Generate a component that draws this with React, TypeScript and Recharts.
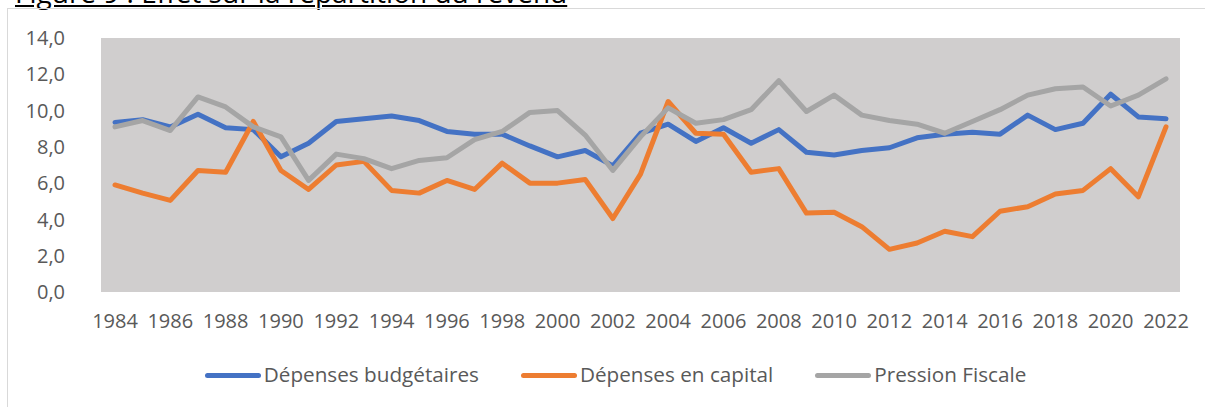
import React from 'react';
import { LineChart, Line, XAxis, YAxis, Legend } from 'recharts';

const years = [
  '1984', '1985', '1986', '1987', '1988', '1989', '1990', '1991', '1992', '1993',
  '1994', '1995', '1996', '1997', '1998', '1999', '2000', '2001', '2002', '2003',
  '2004', '2005', '2006', '2007', '2008', '2009', '2010', '2011', '2012', '2013',
  '2014', '2015', '2016', '2017', '2018', '2019', '2020', '2021', '2022',
];

const depensesBudgetaires = [
  9.35, 9.5, 9.1, 9.8, 9.05, 8.95, 7.45, 8.2, 9.4, 9.55,
  9.7, 9.45, 8.85, 8.7, 8.7, 8.05, 7.45, 7.8, 6.95, 8.75,
  9.25, 8.3, 9.05, 8.2, 8.95, 7.7, 7.55, 7.8, 7.95, 8.5,
  8.7, 8.8, 8.7, 9.75, 8.95, 9.3, 10.9, 9.65, 9.55,
];

const depensesCapital = [
  5.9, 5.45, 5.05, 6.7, 6.6, 9.4, 6.7, 5.65, 7.0, 7.2,
  5.6, 5.45, 6.15, 5.65, 7.1, 6.0, 6.0, 6.2, 4.05, 6.5,
  10.5, 8.75, 8.7, 6.6, 6.8, 4.35, 4.4, 3.6, 2.35, 2.7,
  3.35, 3.05, 4.45, 4.7, 5.4, 5.6, 6.8, 5.25, 9.1,
];

const pressionFiscale = [
  9.1, 9.45, 8.9, 10.75, 10.2, 9.1, 8.55, 6.15, 7.6, 7.35,
  6.8, 7.25, 7.4, 8.4, 8.85, 9.9, 10.0, 8.65, 6.7, 8.55,
  10.15, 9.3, 9.5, 10.05, 11.65, 9.95, 10.85, 9.75, 9.45, 9.25,
  8.75, 9.4, 10.05, 10.85, 11.2, 11.3, 10.25, 10.85, 11.75,
];

const yTicks = [0, 2, 4, 6, 8, 10, 12, 14];

const data = years.map((year, i) => ({
  year,
  budget: depensesBudgetaires[i],
  capital: depensesCapital[i],
  fiscal: pressionFiscale[i],
}));

const FONT = '"Open Sans", "Noto Sans", sans-serif';
const TEXT = '#595959';

const LegendContent = (props: any) => {
  const items = props.payload || [];
  return (
    <div style={{ display: 'flex', justifyContent: 'center', paddingLeft: 26, fontFamily: FONT, fontSize: 20.7, color: TEXT }}>
      {items.map((it: any, i: number) => (
        <div key={i} style={{ display: 'flex', alignItems: 'center', marginRight: i < items.length - 1 ? 42 : 0 }}>
          <div style={{ width: 56, height: 5, borderRadius: 3, background: it.color, marginRight: 3, marginTop: 3 }} />
          <span>{it.value}</span>
        </div>
      ))}
    </div>
  );
};

export default function App() {
  return (
    <div style={{ position: 'relative', width: 1205, height: 407, overflow: 'hidden', background: '#fff' }}>
      <style>{'body{margin:0}'}</style>
      <div
        style={{
          position: 'absolute', left: 15, top: -27, fontFamily: FONT, fontSize: 28,
          lineHeight: '38px', color: '#000', textDecoration: 'underline', whiteSpace: 'nowrap',
        }}
      >
        Figure 9 : Effet sur la répartition du revenu
      </div>
      <div style={{ position: 'absolute', left: 7, top: 8, width: 1230, height: 420, border: '1px solid #d9d9d9' }} />
      <div style={{ position: 'absolute', left: 0, top: 0 }}>
        <LineChart width={1205} height={407} data={data} margin={{ top: 38, right: 25, bottom: 85, left: 0 }}>
          <rect x={101} y={38} width={1079} height={254} fill="#d0cece" />
          <XAxis
            dataKey="year"
            interval={1}
            axisLine={false}
            tickLine={false}
            tickSize={0}
            tickMargin={22}
            height={30}
            padding={{ left: 14, right: 14 }}
            tick={{ fill: TEXT, fontSize: 20, fontFamily: FONT }}
          />
          <YAxis
            domain={[0, 14]}
            ticks={yTicks}
            width={101}
            axisLine={false}
            tickLine={false}
            tickSize={0}
            tickMargin={36}
            tickFormatter={(v: number) => v.toFixed(1).replace('.', ',')}
            tick={{ fill: TEXT, fontSize: 20, fontFamily: FONT }}
          />
          <Legend
            layout="horizontal"
            verticalAlign="middle"
            align="center"
            wrapperStyle={{ top: 360, left: 0, width: 1205 }}
            content={<LegendContent />}
          />
          <Line name="Dépenses budgétaires" dataKey="budget" stroke="#4472c4" strokeWidth={5} dot={false} strokeLinejoin="round" strokeLinecap="round" isAnimationActive={false} />
          <Line name="Dépenses en capital" dataKey="capital" stroke="#ed7d31" strokeWidth={5} dot={false} strokeLinejoin="round" strokeLinecap="round" isAnimationActive={false} />
          <Line name="Pression Fiscale" dataKey="fiscal" stroke="#a5a5a5" strokeWidth={5} dot={false} strokeLinejoin="round" strokeLinecap="round" isAnimationActive={false} />
        </LineChart>
      </div>
    </div>
  );
}
